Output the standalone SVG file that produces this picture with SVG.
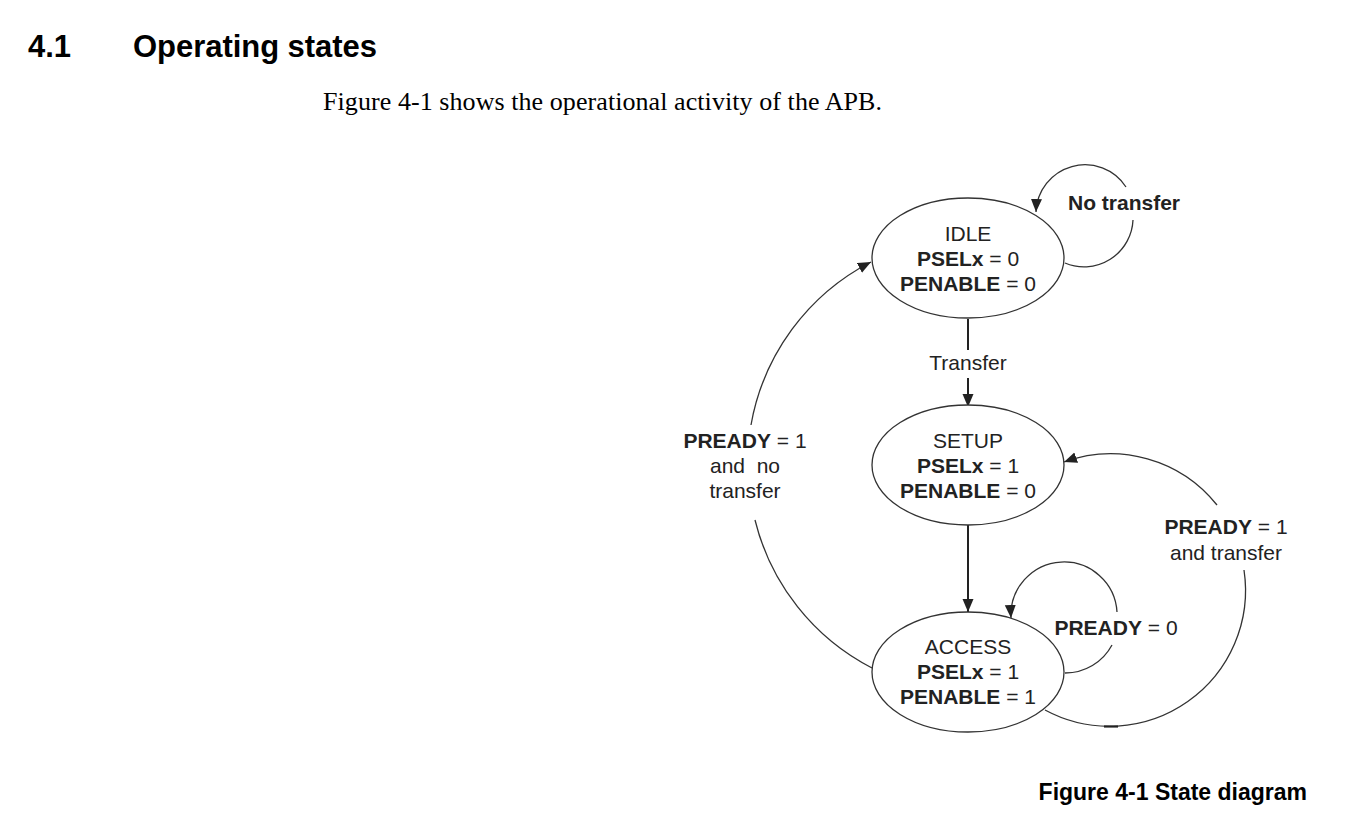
<svg xmlns="http://www.w3.org/2000/svg" width="1352" height="821" viewBox="0 0 1352 821">
<defs>
<marker id="ah" markerUnits="userSpaceOnUse" markerWidth="14" markerHeight="12" refX="13" refY="5.5" orient="auto">
<path d="M0,0 L13,5.5 L0,11 z" fill="#222"/>
</marker>
<style>
.st{fill:#fff;stroke:#333;stroke-width:1.3}
.t{font-family:"Liberation Sans",Arial,sans-serif;font-size:21px;fill:#222;text-anchor:middle}
.b{font-weight:bold}
.c{fill:none;stroke:#333;stroke-width:1.3}
.s{fill:none;stroke:#222;stroke-width:2}
</style>
</defs>
<rect width="1352" height="821" fill="#fff"/>
<text x="28" y="57" font-family="Liberation Sans,Arial,sans-serif" font-size="31" font-weight="bold" fill="#000">4.1</text>
<text x="133" y="57" font-family="Liberation Sans,Arial,sans-serif" font-size="31" font-weight="bold" fill="#000" textLength="244">Operating states</text>
<text x="323" y="110" font-family="Liberation Serif,Times New Roman,serif" font-size="26" fill="#000" textLength="559">Figure 4-1 shows the operational activity of the APB.</text>

<g id="connectors">
<path class="c" d="M1065,263 A49,49 0 0 0 1133,220" />
<path class="c" d="M1126,187 A49,49 0 0 0 1036,212" marker-end="url(#ah)"/>
<path class="s" d="M968,319 V350"/>
<path class="s" d="M968,378 V407" marker-end="url(#ah)"/>
<path class="s" d="M968,525 V612" marker-end="url(#ah)"/>
<path class="c" d="M1065,673 A53,53 0 0 0 1112,645"/>
<path class="c" d="M1117,612 A53,53 0 0 0 1011,618" marker-end="url(#ah)"/>
<path class="c" d="M1045,710 A136,136 0 0 0 1244,570"/>
<path d="M1104,726.5 H1118" stroke="#222" stroke-width="2.2"/>
<path class="c" d="M1217,505 A136,136 0 0 0 1064,462" marker-end="url(#ah)"/>
<path class="c" d="M872,668 A228,228 0 0 1 755,520"/>
<path class="c" d="M751,425 A228,228 0 0 1 871,262" marker-end="url(#ah)"/>
</g>

<g id="idle">
<ellipse class="st" cx="968" cy="258" rx="96" ry="60"/>
<text class="t" x="968" y="241">IDLE</text>
<text class="t" x="968" y="266"><tspan class="b">PSELx</tspan> = 0</text>
<text class="t" x="968" y="291"><tspan class="b">PENABLE</tspan> = 0</text>
</g>
<g id="setup">
<ellipse class="st" cx="968" cy="465" rx="96" ry="60"/>
<text class="t" x="968" y="448">SETUP</text>
<text class="t" x="968" y="473"><tspan class="b">PSELx</tspan> = 1</text>
<text class="t" x="968" y="498"><tspan class="b">PENABLE</tspan> = 0</text>
</g>
<g id="access">
<ellipse class="st" cx="968" cy="672" rx="96" ry="60"/>
<text class="t" x="968" y="654">ACCESS</text>
<text class="t" x="968" y="679"><tspan class="b">PSELx</tspan> = 1</text>
<text class="t" x="968" y="704"><tspan class="b">PENABLE</tspan> = 1</text>
</g>

<g id="labels">
<text class="t b" x="1124" y="210">No transfer</text>
<text class="t" x="968" y="370">Transfer</text>
<text class="t" x="745" y="448"><tspan class="b">PREADY</tspan> = 1</text>
<text class="t" x="745" y="473" xml:space="preserve">and  no</text>
<text class="t" x="745" y="498">transfer</text>
<text class="t" x="1226" y="534"><tspan class="b">PREADY</tspan> = 1</text>
<text class="t" x="1226" y="560">and transfer</text>
<text class="t" x="1116" y="635"><tspan class="b">PREADY</tspan> = 0</text>
</g>

<text x="1307" y="800" font-family="Liberation Sans,Arial,sans-serif" font-size="23" font-weight="bold" fill="#000" text-anchor="end">Figure 4-1 State diagram</text>
</svg>
